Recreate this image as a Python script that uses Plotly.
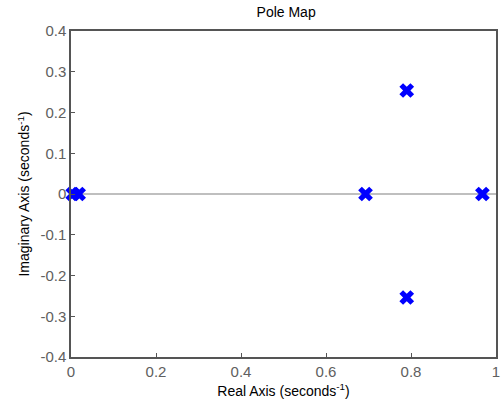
import plotly.graph_objects as go

pole_re = [0.004, 0.018, 0.693, 0.79, 0.79, 0.968]
pole_im = [0.0, 0.0, 0.0, 0.254, -0.254, 0.0]

x_ticks = [0, 0.2, 0.4, 0.6, 0.8, 1.0]
x_labels = ["0", "0.2", "0.4", "0.6", "0.8", "1"]
y_ticks = [-0.4, -0.3, -0.2, -0.1, 0, 0.1, 0.2, 0.3, 0.4]
y_labels = ["-0.4", "-0.3", "-0.2", "-0.1", "0", "0.1", "0.2", "0.3", "0.4"]

FONT = "Liberation Sans, Arial, sans-serif"

fig = go.Figure()
fig.add_trace(go.Scatter(
    x=pole_re, y=pole_im, mode="markers",
    marker=dict(symbol="x", size=13, color="#0000ff", line=dict(width=0)),
    showlegend=False, cliponaxis=False,
))

axis_common = dict(
    showgrid=False, showline=True, linecolor="#555555", linewidth=1.5,
    mirror=True, ticks="inside", ticklen=4, tickcolor="#555555",
    tickfont=dict(family=FONT, size=15, color="#606060"),
    ticklabeloverflow="allow",
)

fig.update_layout(
    width=502, height=408,
    margin=dict(l=71, r=2, t=31, b=51),
    paper_bgcolor="white", plot_bgcolor="white",
    title=dict(text="Pole Map", x=0.57, xanchor="center", y=0.97, yanchor="middle",
               font=dict(family=FONT, size=14, color="black")),
    xaxis=dict(range=[0, 1], tickvals=x_ticks, ticktext=x_labels, zeroline=False,
               title=dict(text="Real Axis (seconds<sup>-1</sup>)", standoff=7,
                          font=dict(family=FONT, size=14, color="black")),
               **axis_common),
    yaxis=dict(range=[-0.4, 0.4], tickvals=y_ticks, ticktext=y_labels,
               zeroline=True, zerolinecolor="#bfbfbf", zerolinewidth=1.5,
               title=dict(text="Imaginary Axis (seconds<sup>-1</sup>)", standoff=7,
                          font=dict(family=FONT, size=14, color="black")),
               **axis_common),
)

fig.write_html("out.html")
